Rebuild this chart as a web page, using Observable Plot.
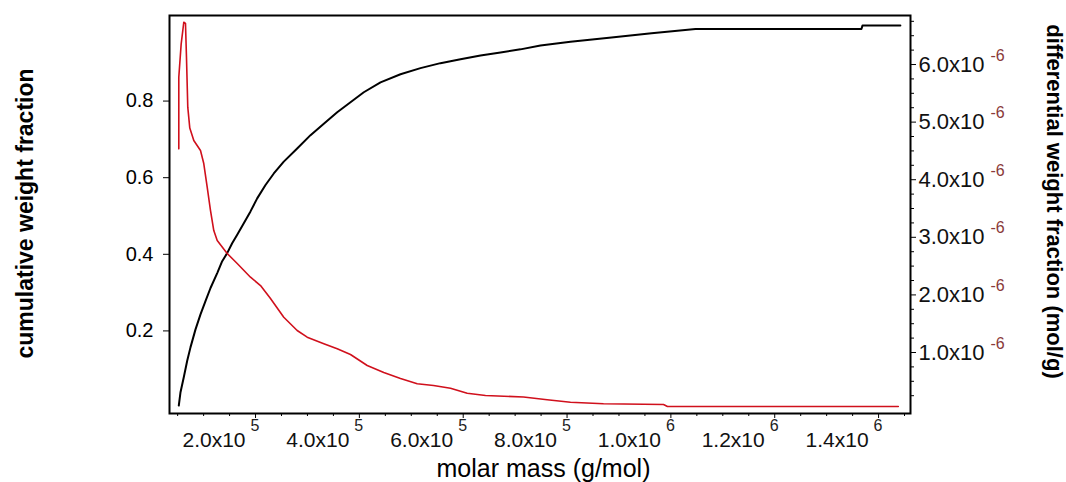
<!DOCTYPE html>
<html><head><meta charset="utf-8">
<script src="https://cdn.jsdelivr.net/npm/d3@7"></script>
<script src="https://cdn.jsdelivr.net/npm/@observablehq/plot@0.6"></script>
<style>
body{margin:0;background:#fff;}
#wrap{position:relative;width:1066px;height:482px;background:#fff;}
#wrap svg{position:absolute;left:0;top:0;}
</style></head><body><div id="wrap"></div>
<script>
// cumulative weight fraction (left axis) vs molar mass (g/mol)
const cumMass = [52200, 55500, 61800, 68400, 74700, 84400, 94000, 103600, 113300, 126200, 135800, 145400, 155000, 164700, 177400, 190300, 203200, 219200, 235200, 254400, 280200, 305900, 331500, 357300, 382900, 408500, 440700, 479200, 517700, 556200, 594800, 633300, 671800, 710300, 748800, 806600, 885600, 962700, 1047400, 1367000, 1369000, 1442000];
const cumFrac = [0.005, 0.040, 0.079, 0.122, 0.157, 0.204, 0.243, 0.278, 0.312, 0.351, 0.382, 0.403, 0.429, 0.451, 0.481, 0.512, 0.546, 0.581, 0.611, 0.642, 0.676, 0.711, 0.741, 0.771, 0.797, 0.823, 0.849, 0.870, 0.886, 0.899, 0.909, 0.919, 0.927, 0.935, 0.945, 0.955, 0.966, 0.977, 0.988, 0.988, 0.997, 0.997];

// differential weight fraction (right axis, x10^-6 mol/g) vs molar mass
const diffMass = [52200, 52200, 56800, 59900, 61800, 65100, 67000, 69500, 73400, 81100, 94000, 100300, 106900, 113300, 119600, 126200, 145400, 164700, 190300, 209600, 228800, 254400, 280200, 299500, 331500, 357300, 382900, 415100, 447000, 479200, 511400, 542800, 575500, 607700, 642900, 716100, 761700, 806600, 870200, 985800, 993400, 1438000];
const diffFrac = [4.536, 5.780, 6.359, 6.590, 6.734, 6.712, 6.127, 5.259, 4.896, 4.681, 4.507, 4.281, 3.870, 3.465, 3.118, 2.944, 2.719, 2.545, 2.307, 2.163, 1.938, 1.613, 1.382, 1.266, 1.151, 1.064, 0.965, 0.774, 0.653, 0.549, 0.457, 0.427, 0.380, 0.293, 0.253, 0.227, 0.179, 0.137, 0.109, 0.097, 0.063, 0.063];

const xTicks = [200000, 400000, 600000, 800000, 1000000, 1200000, 1400000];
const xTickMantissa = ["2.0x10", "4.0x10", "6.0x10", "8.0x10", "1.0x10", "1.2x10", "1.4x10"];
const xTickExponent = ["5", "5", "5", "5", "6", "6", "6"];
const xMinorTicks = [50000,100000,150000,250000,300000,350000,450000,500000,550000,650000,700000,750000,850000,900000,950000,1050000,1100000,1150000,1250000,1300000,1350000,1450000];

const yLeftTicks = [0.2, 0.4, 0.6, 0.8];
const yLeftLabels = ["0.2", "0.4", "0.6", "0.8"];

const yRightTicks = [1, 2, 3, 4, 5, 6];
const yRightMantissa = ["1.0x10", "2.0x10", "3.0x10", "4.0x10", "5.0x10", "6.0x10"];
const yRightExponent = ["-6", "-6", "-6", "-6", "-6", "-6"];
const yRightMinor = [0.25,0.5,0.75,1.25,1.5,1.75,2.25,2.5,2.75,3.25,3.5,3.75,4.25,4.5,4.75,5.25,5.5,5.75,6.25,6.5,6.75];

const cum = cumMass.map((m, i) => ({m, v: cumFrac[i]}));
const diff = diffMass.map((m, i) => ({m, v: diffFrac[i]}));

const W = 1066, H = 482;
const margins = {marginLeft: 169, marginRight: 156, marginTop: 15, marginBottom: 69};
const xDomain = [34300, 1461500];
const font = "'Liberation Sans', Arial, sans-serif";

const plotA = Plot.plot({
  width: W, height: H, ...margins,
  x: {domain: xDomain, label: null},
  y: {domain: [-0.0156, 1.0234], label: null},
  style: {fontFamily: font, fontSize: "20px", color: "#000", background: "#fff"},
  marks: [
    Plot.line(cum, {x: "m", y: "v", stroke: "#000", strokeWidth: 2}),
    Plot.axisX({ticks: xMinorTicks, tickSize: 3, tickFormat: () => "", label: null}),
    Plot.axisX({ticks: xTicks, tickSize: 5, tickFormat: () => "", label: null}),
    Plot.text(xTicks, {x: d => d, text: (d, i) => xTickMantissa[i], frameAnchor: "bottom", textAnchor: "end", lineAnchor: "middle", dx: -10, dy: 26.5, fontSize: 21, fill: "#111", ariaLabel: "x-mantissa"}),
    Plot.text(xTicks, {x: d => d, text: (d, i) => xTickExponent[i], frameAnchor: "bottom", textAnchor: "start", lineAnchor: "middle", dx: -5, dy: 12.5, fontSize: 16, fill: "#222"}),
    Plot.axisY({ticks: yLeftTicks, tickSize: 6, tickPadding: 10, tickFormat: (d) => yLeftLabels[yLeftTicks.indexOf(d)], fontSize: 20, label: null}),
    Plot.text(["cumulative weight fraction"], {text: d => d, frameAnchor: "left", textAnchor: "middle", lineAnchor: "middle", rotate: -90, dx: -144, dy: -1, fontSize: 23, fontWeight: "bold", fill: "#000"}),
    Plot.text(["molar mass (g/mol)"], {text: d => d, frameAnchor: "bottom", textAnchor: "middle", lineAnchor: "middle", dx: 3.5, dy: 55, fontSize: 25, fill: "#000"}),
    Plot.frame({stroke: "#000", strokeWidth: 2})
  ]
});

const plotB = Plot.plot({
  width: W, height: H, ...margins,
  x: {domain: xDomain, axis: null},
  y: {domain: [-0.059, 6.851], label: null},
  style: {fontFamily: font, fontSize: "20px", color: "#000", background: "transparent"},
  marks: [
    Plot.line(diff, {x: "m", y: "v", stroke: "#d0101c", strokeWidth: 1.6}),
    Plot.axisY({anchor: "right", ticks: yRightMinor, tickSize: 3, tickFormat: () => "", label: null}),
    Plot.axisY({anchor: "right", ticks: yRightTicks, tickSize: 5, tickFormat: () => "", label: null}),
    Plot.text(yRightTicks, {y: d => d, text: (d, i) => yRightMantissa[i], frameAnchor: "right", textAnchor: "start", lineAnchor: "middle", dx: 8, fontSize: 22, fill: "#111", ariaLabel: "y2-mantissa"}),
    Plot.text(yRightTicks, {y: d => d, text: (d, i) => yRightExponent[i], frameAnchor: "right", textAnchor: "start", lineAnchor: "middle", dx: 80, dy: -9, fontSize: 16, fill: "#8b3a3a"}),
    Plot.text(["differential weight fraction (mol/g)"], {text: d => d, frameAnchor: "right", textAnchor: "middle", lineAnchor: "middle", rotate: 90, dx: 144, dy: -13, fontSize: 22, fontWeight: "bold", fill: "#000"})
  ]
});

d3.select(plotA).selectAll('g[aria-label="x-mantissa"] text').style("letter-spacing", "1px");
d3.select(plotB).selectAll('g[aria-label="y2-mantissa"] text').style("letter-spacing", "1px");

const wrap = document.getElementById("wrap");
wrap.appendChild(plotA);
wrap.appendChild(plotB);
</script>
</body></html>
